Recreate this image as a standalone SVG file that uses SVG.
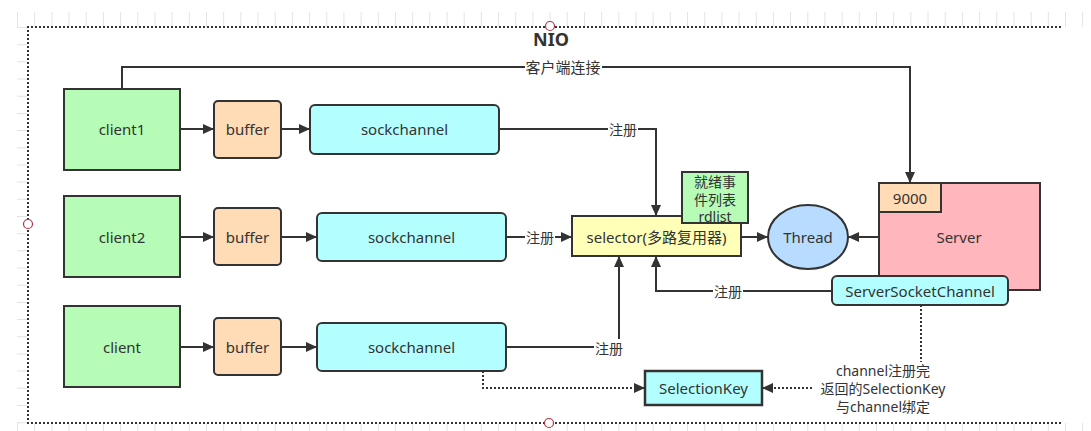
<svg xmlns="http://www.w3.org/2000/svg" width="1091" height="431" viewBox="0 0 1091 431">
<defs>
<style>
text{font-family:"Noto Sans","Noto Sans CJK SC",sans-serif;fill:#333;font-size:15px;text-anchor:middle;dominant-baseline:central}
.cjk{font-size:14px}
.box{stroke:#333;stroke-width:2}
.green{fill:#b6fcb6}.peach{fill:#ffdbb6}.cyan{fill:#b3ffff}.yellow{fill:#ffffb8}.blue{fill:#b7dcff}.pink{fill:#ffb6bd}
.ln{fill:none;stroke:#333;stroke-width:2}
.dot{fill:none;stroke:#333;stroke-width:2;stroke-dasharray:2 2}
.arr{marker-end:url(#ah)}
.lbl{fill:#fff}
</style>
<marker id="ah" markerUnits="userSpaceOnUse" markerWidth="12" markerHeight="10" refX="11" refY="5" orient="auto">
<path d="M0,0 L11,5 L0,10 z" fill="#333"/>
</marker>
</defs>
<rect width="1091" height="431" fill="#fff"/>
<g id="ruler" stroke="#e4e4e4">
<line x1="17" y1="19.5" x2="1091" y2="19.5" stroke-width="15" stroke-dasharray="1 16.18"/>
<line x1="17" y1="427" x2="1091" y2="427" stroke-width="8" stroke-dasharray="1 16.18"/>
<line x1="22" y1="27" x2="22" y2="431" stroke-width="10" stroke-dasharray="1 16.18"/>
</g>
<g id="frame">
<path class="dot" d="M1061,27 H28 V423 H1061"/>
<circle cx="550" cy="26" r="4.5" fill="#fff" stroke="#b03040" stroke-width="1.2"/>
<circle cx="28" cy="224" r="4.5" fill="#fff" stroke="#b03040" stroke-width="1.2"/>
<circle cx="549" cy="423" r="4.5" fill="#fff" stroke="#b03040" stroke-width="1.2"/>
<text x="551" y="39" style="font-size:18px;font-weight:bold">NIO</text>
</g>
<g id="connectors">
<line class="ln arr" x1="180" y1="129" x2="214" y2="129"/>
<line class="ln arr" x1="281" y1="129" x2="310" y2="129"/>
<line class="ln arr" x1="180" y1="237" x2="214" y2="237"/>
<line class="ln arr" x1="281" y1="237" x2="317" y2="237"/>
<line class="ln arr" x1="180" y1="347" x2="214" y2="347"/>
<line class="ln arr" x1="281" y1="347" x2="317" y2="347"/>
<path class="ln arr" d="M122,89 V67 H910 V183"/>
<rect class="lbl" x="525" y="58" width="77" height="18"/>
<text x="563" y="67">客户端连接</text>
<path class="ln arr" d="M499,129 H656 V216"/>
<rect class="lbl" x="608" y="121" width="30" height="17"/>
<text class="cjk" x="623" y="129">注册</text>
<line class="ln arr" x1="506" y1="237" x2="572" y2="237"/>
<rect class="lbl" x="525" y="229" width="30" height="17"/>
<text class="cjk" x="540" y="237">注册</text>
<path class="ln arr" d="M506,347 H619 V256"/>
<rect class="lbl" x="594" y="339" width="30" height="17"/>
<text class="cjk" x="609" y="348">注册</text>
<line class="ln arr" x1="741" y1="237" x2="768" y2="237"/>
<line class="ln arr" x1="879" y1="237" x2="848" y2="237"/>
<path class="ln arr" d="M832,291 H656 V256"/>
<rect class="lbl" x="713" y="283" width="30" height="17"/>
<text class="cjk" x="728" y="291">注册</text>
<path class="ln arr" d="M920,276 V245 H910 V212"/>
<rect class="lbl" x="906" y="249" width="31" height="19"/>
<text class="cjk" x="921" y="258">监听</text>
<path class="dot arr" d="M483,371 V388 H645"/>
<path class="dot" d="M921,305 V362"/>
<path class="dot arr" d="M812,388 H762"/>
<text class="cjk" x="883" y="370">channel注册完</text>
<text class="cjk" x="883" y="388">返回的SelectionKey</text>
<text class="cjk" x="883" y="406">与channel绑定</text>
</g>
<g id="client1"><rect class="box green" x="64" y="89" width="116" height="81"/><text x="122" y="129">client1</text></g>
<g id="buffer1"><rect class="box peach" x="214" y="101" width="67" height="57" rx="4"/><text x="247.5" y="129">buffer</text></g>
<g id="sockchannel1"><rect class="box cyan" x="310" y="105" width="189" height="49" rx="5"/><text x="404.5" y="129">sockchannel</text></g>
<g id="client2"><rect class="box green" x="64" y="196" width="116" height="81"/><text x="122" y="237">client2</text></g>
<g id="buffer2"><rect class="box peach" x="214" y="208" width="67" height="57" rx="4"/><text x="247.5" y="237">buffer</text></g>
<g id="sockchannel2"><rect class="box cyan" x="317" y="213" width="189" height="48" rx="5"/><text x="411.5" y="237">sockchannel</text></g>
<g id="client"><rect class="box green" x="64" y="306" width="116" height="81"/><text x="122" y="347">client</text></g>
<g id="buffer3"><rect class="box peach" x="214" y="318" width="67" height="57" rx="4"/><text x="247.5" y="347">buffer</text></g>
<g id="sockchannel3"><rect class="box cyan" x="317" y="323" width="189" height="48" rx="5"/><text x="411.5" y="347">sockchannel</text></g>
<g id="selector"><rect class="box yellow" x="572" y="216" width="169" height="40"/><text x="656.5" y="237">selector(多路复用器)</text></g>
<g id="rdlist"><rect class="box green" x="682" y="172" width="66" height="51"/><text class="cjk" x="715" y="181">就绪事</text><text class="cjk" x="715" y="199">件列表</text><text class="cjk" x="715" y="216">rdlist</text></g>
<g id="thread"><ellipse class="box blue" cx="808" cy="237" rx="40" ry="32"/><text x="808" y="237">Thread</text></g>
<g id="server"><rect class="box pink" x="879" y="183" width="161" height="107"/><text x="959" y="237">Server</text></g>
<g id="port9000"><rect class="box peach" x="879" y="183" width="62" height="29"/><text x="910" y="198">9000</text></g>
<g id="serversocketchannel"><rect class="box cyan" x="832" y="276" width="176" height="29" rx="5"/><text x="920" y="291">ServerSocketChannel</text></g>
<g id="selectionkey"><rect class="box cyan" x="645" y="371" width="117" height="34" style="stroke-width:2.5"/><text x="703.5" y="388">SelectionKey</text></g>
</svg>
